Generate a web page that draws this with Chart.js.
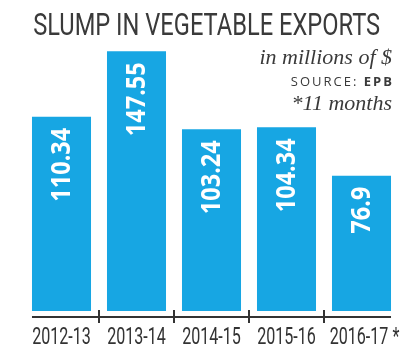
<!DOCTYPE html>
<html>
<head>
<meta charset="utf-8">
<script src="https://cdn.jsdelivr.net/npm/chart.js@4/dist/chart.umd.min.js"></script>
<style>
  html, body { margin: 0; padding: 0; background: #ffffff; }
  #wrap { position: relative; width: 416px; height: 346px; overflow: hidden; }
  #chart { position: absolute; left: 0; top: 0; }
  .title {
    position: absolute; top: 5px; left: 0;
    font-family: Roboto, "Liberation Sans", sans-serif;
    font-size: 32px; color: #3a3a3a; white-space: nowrap; line-height: 1.2;
    transform-origin: center;
  }
  .note { position: absolute; right: 24px; text-align: right; white-space: nowrap; color: #3a3a3a; line-height: 1; }
  .unit { top: 46px; font-family: "Liberation Serif", serif; font-style: italic; font-size: 22px; }
  .source { top: 75px; font-family: "Open Sans", sans-serif; font-size: 13px; letter-spacing: 2px; right: 22px; }
  .source b { font-weight: 700; }
  .foot { top: 92px; font-family: "Liberation Serif", serif; font-style: italic; font-size: 22px; }
</style>
</head>
<body>
<div id="wrap">
  <canvas id="chart" width="416" height="346"></canvas>
  <div class="title" id="titleText">SLUMP IN VEGETABLE EXPORTS</div>
  <div class="note unit">in millions of $</div>
  <div class="note source">SOURCE: <b>EPB</b></div>
  <div class="note foot">*11 months</div>
</div>
<script>
// Fiscal years and export values (millions of $)
const years = ['2012-13', '2013-14', '2014-15', '2015-16', '2016-17 *'];
const exportsValue = [110.34, 147.55, 103.24, 104.34, 76.9];
const barColor = '#17a6e3';

// Condensed headline: squeeze it to 347px and centre it on x = 206.5
(function () {
  const t = document.getElementById('titleText');
  const w = t.getBoundingClientRect().width;
  t.style.left = (206.5 - w / 2) + 'px';
  t.style.transform = 'scaleX(' + (347 / w) + ')';
})();

// Value written vertically inside the top of each bar
const barValueLabels = {
  id: 'barValueLabels',
  afterDatasetsDraw(chart) {
    const ctx = chart.ctx;
    const meta = chart.getDatasetMeta(0);
    ctx.save();
    ctx.fillStyle = '#ffffff';
    ctx.font = 'bold 27px "Open Sans", sans-serif';
    ctx.textAlign = 'right';
    ctx.textBaseline = 'middle';
    meta.data.forEach((bar, i) => {
      ctx.save();
      ctx.translate(bar.x + 1, bar.y + 11);
      ctx.rotate(-Math.PI / 2);
      ctx.scale(0.87, 1);
      ctx.fillText(String(exportsValue[i]), 0, 0);
      ctx.restore();
    });
    ctx.restore();
  }
};

// Baseline under the bars with separators between years, and condensed year labels
const baseAxis = {
  id: 'baseAxis',
  afterDatasetsDraw(chart) {
    const ctx = chart.ctx;
    const x = chart.scales.x;
    const y = chart.scales.y;
    const bars = chart.getDatasetMeta(0).data;
    const lineY = y.getPixelForValue(0) + 6;
    const left = bars[0].x - bars[0].width / 2;
    const last = bars[bars.length - 1];
    const right = last.x + last.width / 2;
    ctx.save();
    ctx.strokeStyle = '#333333';
    ctx.lineWidth = 2;
    ctx.beginPath();
    ctx.moveTo(left, lineY);
    ctx.lineTo(right, lineY);
    for (let i = 0; i < years.length - 1; i++) {
      const sx = Math.round((x.getPixelForValue(i) + x.getPixelForValue(i + 1)) / 2);
      ctx.moveTo(sx, lineY - 7);
      ctx.lineTo(sx, lineY + 6);
    }
    ctx.stroke();

    ctx.fillStyle = '#333333';
    ctx.font = '23px Roboto, sans-serif';
    ctx.textAlign = 'center';
    ctx.textBaseline = 'alphabetic';
    years.forEach((label, i) => {
      ctx.save();
      ctx.translate(x.getPixelForValue(i) + (i === years.length - 1 ? 3 : 0), lineY + 27);
      ctx.scale(0.7, 1);
      ctx.fillText(label, 0, 0);
      ctx.restore();
    });
    ctx.restore();
  }
};

new Chart(document.getElementById('chart'), {
  type: 'bar',
  data: {
    labels: years,
    datasets: [{
      data: exportsValue,
      backgroundColor: barColor,
      borderWidth: 0,
      barPercentage: 0.787,
      categoryPercentage: 1.0
    }]
  },
  options: {
    responsive: false,
    animation: false,
    layout: { padding: { left: 24, right: 17, top: 47, bottom: 35 } },
    plugins: { legend: { display: false }, tooltip: { enabled: false } },
    scales: {
      x: {
        display: false
      },
      y: {
        display: false,
        min: 0,
        max: 150
      }
    }
  },
  plugins: [barValueLabels, baseAxis]
});
</script>
</body>
</html>
